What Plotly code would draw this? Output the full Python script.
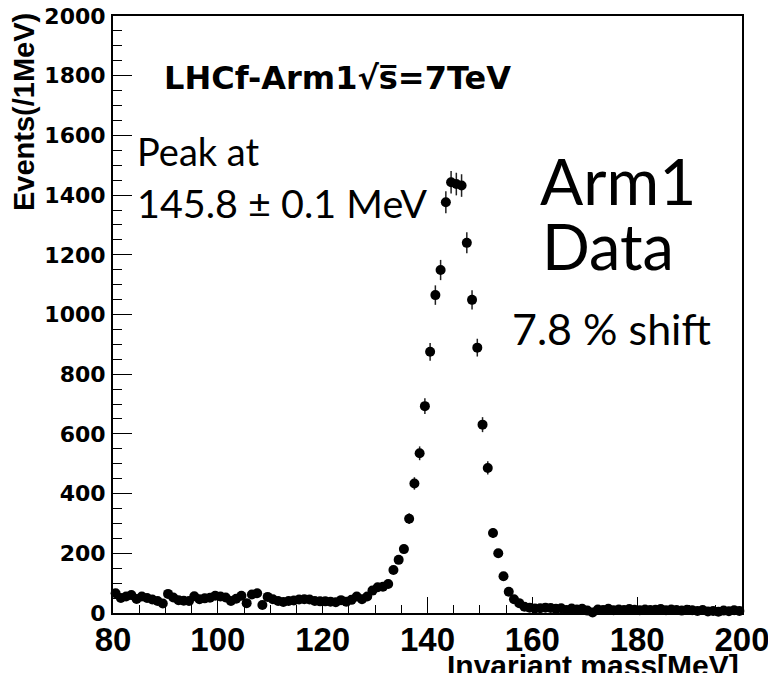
import plotly.graph_objects as go

# Invariant-mass histogram, 1 MeV bins from 80 to 200 MeV
bin_low = 80
bin_width = 1.0
events = [
    66, 50, 55, 60, 47, 55, 50, 45, 40, 32,      # 80-89
    64, 52, 43, 41, 40, 56, 46, 49, 51, 58,      # 90-99
    55, 52, 40, 48, 58, 33, 62, 66, 27, 54,      # 100-109
    46, 40, 37, 40, 42, 45, 46, 45, 40, 39,      # 110-119
    39, 38, 36, 43, 38, 44, 55, 46, 55, 75,      # 120-129
    86, 88, 97, 144, 178, 214, 316, 434, 535, 693,   # 130-139
    875, 1065, 1149, 1376, 1443, 1437, 1432, 1240, 1049, 889,  # 140-149
    631, 486, 268, 200, 123, 71, 46, 33, 21, 18,  # 150-159
    15, 16, 18, 17, 14, 16, 10, 15, 12, 14,      # 160-169
    8, 2, 12, 10, 14, 9, 12, 10, 13, 11,         # 170-179
    9, 12, 10, 11, 13, 9, 12, 10, 8, 11,         # 180-189
    9, 7, 10, 5, 7, 4, 8, 6, 9, 7,               # 190-199
]
bin_centers = [bin_low + bin_width * (i + 0.5) for i in range(len(events))]

x_ticks = [80, 100, 120, 140, 160, 180, 200]
y_ticks = [0, 200, 400, 600, 800, 1000, 1200, 1400, 1600, 1800, 2000]

W, H = 768, 673
L, R, T, B = 113, 26, 16, 60


def px(xp):
    return (xp - L) / (W - L - R)


def py(yp):
    return (H - B - yp) / (H - T - B)


fig = go.Figure()
fig.add_trace(go.Scatter(
    x=bin_centers, y=events, mode="markers",
    marker=dict(color="black", size=10, symbol="circle"),
    error_y=dict(type="sqrt", color="#222222", thickness=1.5, width=0),
    cliponaxis=False, showlegend=False,
))

bold_wide = "DejaVu Sans"
helv = "Liberation Sans, Arial, Helvetica"
slide = "Lato, Open Sans, sans-serif"

fig.update_layout(
    width=W, height=H,
    margin=dict(l=L, r=R, t=T, b=B, pad=0, autoexpand=False),
    paper_bgcolor="white", plot_bgcolor="white",
    xaxis=dict(
        range=[80, 200], tickvals=x_ticks, ticktext=[str(v) for v in x_ticks],
        showgrid=False, zeroline=False, automargin=False,
        showline=True, linecolor="black", linewidth=2, mirror=True,
        ticks="inside", ticklen=16, tickwidth=1.3, tickcolor="black",
        minor=dict(dtick=5, ticks="inside", ticklen=8, tickwidth=1, tickcolor="black"),
        tickfont=dict(family=helv, size=33, color="black", weight="bold"),
        ticklabeloverflow="allow", ticklabelstandoff=-4,
    ),
    yaxis=dict(
        range=[0, 2000], tickvals=y_ticks, ticktext=[str(v) for v in y_ticks],
        showgrid=False, zeroline=False, automargin=False,
        showline=True, linecolor="black", linewidth=2, mirror=True,
        ticks="inside", ticklen=19, tickwidth=1.3, tickcolor="black",
        minor=dict(dtick=50, ticks="inside", ticklen=9, tickwidth=1, tickcolor="black"),
        tickfont=dict(family=bold_wide, size=22, color="black", weight="bold"),
        ticklabelstandoff=1,
    ),
)

ann = []
# axis titles
ann.append(dict(text="Events(/1MeV)", textangle=-90, xref="paper", yref="paper",
                x=px(24), y=py(11), xanchor="center", yanchor="top", showarrow=False,
                font=dict(family=helv, size=29, color="black", weight="bold")))
ann.append(dict(text="Invariant mass[MeV]", xref="paper", yref="paper",
                x=px(741), y=py(647), xanchor="right", yanchor="top", showarrow=False,
                font=dict(family=helv, size=30, color="black", weight="bold")))
# labels inside the frame
ann.append(dict(text="LHCf-Arm1\u221as\u0305=7TeV", xref="paper", yref="paper",
                x=px(162), y=py(78), xanchor="left", yanchor="middle", showarrow=False,
                font=dict(family=bold_wide, size=32, color="black", weight="bold")))
ann.append(dict(text="Peak at", xref="paper", yref="paper",
                x=px(135), y=py(151), xanchor="left", yanchor="middle", showarrow=False,
                font=dict(family=slide, size=38, color="black")))
ann.append(dict(text="145.8 \u00b1 0.1 MeV", xref="paper", yref="paper",
                x=px(135), y=py(203), xanchor="left", yanchor="middle", showarrow=False,
                font=dict(family=slide, size=39.5, color="black")))
ann.append(dict(text="Arm1", xref="paper", yref="paper",
                x=px(538), y=py(180), xanchor="left", yanchor="middle", showarrow=False,
                font=dict(family=slide, size=64, color="black")))
ann.append(dict(text="Data", xref="paper", yref="paper",
                x=px(540), y=py(245), xanchor="left", yanchor="middle", showarrow=False,
                font=dict(family=slide, size=63, color="black")))
ann.append(dict(text="7.8 % shift", xref="paper", yref="paper",
                x=px(510), y=py(328), xanchor="left", yanchor="middle", showarrow=False,
                font=dict(family=slide, size=43, color="black")))
fig.update_layout(annotations=ann)

fig.write_html("out.html")
